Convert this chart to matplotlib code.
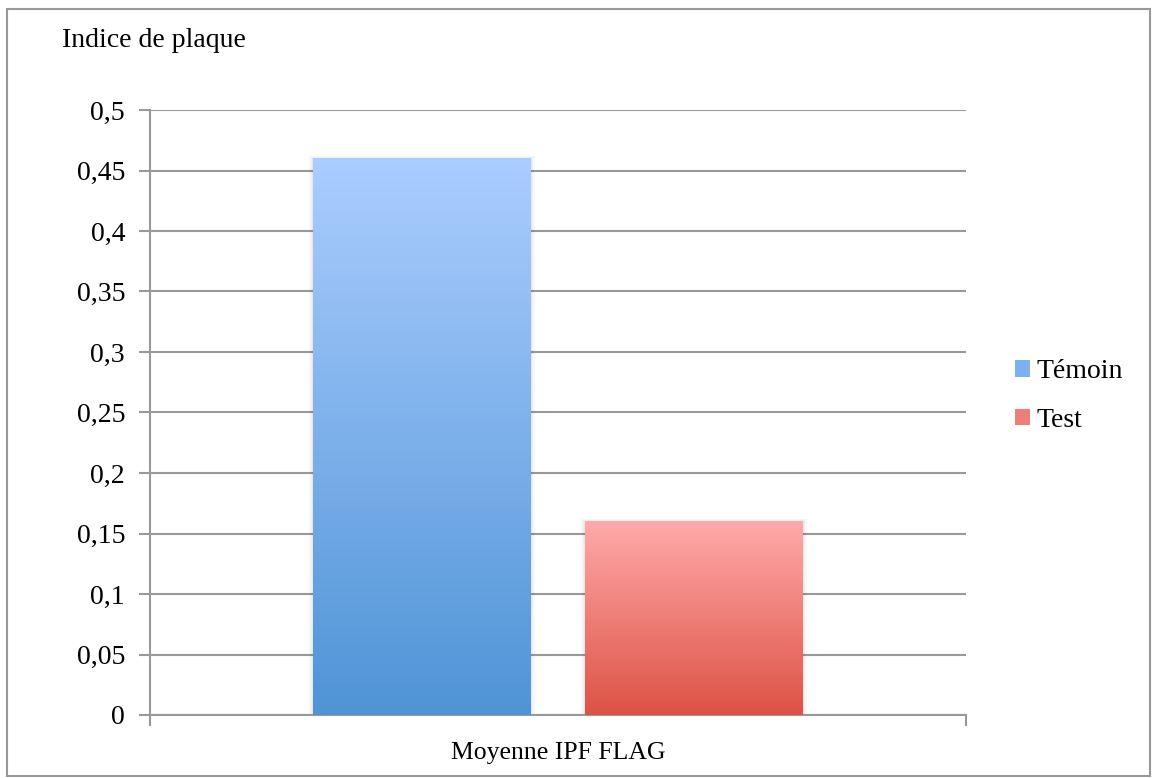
import numpy as np
import matplotlib
matplotlib.use("Agg")
import matplotlib.pyplot as plt
from matplotlib.patches import Patch, Rectangle
from matplotlib.colors import LinearSegmentedColormap
from matplotlib.ticker import FuncFormatter, MultipleLocator

plt.rcParams['font.family'] = ['Liberation Serif', 'DejaVu Serif']

category = "Moyenne IPF FLAG"
series = ["Témoin", "Test"]
values = [0.46, 0.16]
top_colors = ["#abcdff", "#ffaaaa"]
bottom_colors = ["#4f94d6", "#dd5245"]

fig = plt.figure(figsize=(11.52, 7.78), dpi=100)
fig.patches.append(Rectangle((7/1152, 2/778), 1143/1152, 767/778, transform=fig.transFigure,
                             fill=False, edgecolor="#999999", lw=1.5))
ax = fig.add_axes([150/1152, 63/778, 816/1152, 605/778])

width = 0.267
offsets = [-0.1667, 0.1667]
grad = np.linspace(1, 0, 256).reshape(-1, 1)
for off, v, ct, cb in zip(offsets, values, top_colors, bottom_colors):
    x0 = off - width / 2
    # soft shadow, a few faint layers
    for k in range(1, 4):
        ax.bar(off, v + 0.001 * k, width + 0.003 * k, bottom=-0.001, color="#000000",
               alpha=0.03, zorder=2, lw=0)
    cmap = LinearSegmentedColormap.from_list("g", [cb, ct])
    ax.imshow(grad, extent=[x0, x0 + width, 0, v], aspect="auto", cmap=cmap, zorder=3)

ax.set_xlim(-0.5, 0.5)
ax.set_ylim(0, 0.5)
ax.yaxis.set_major_locator(MultipleLocator(0.05))
ax.yaxis.set_major_formatter(FuncFormatter(lambda y, p: ("%g" % round(y, 2)).replace(".", ",")))
ax.grid(axis="y", color="#999999", lw=1.5, zorder=1)
ax.set_axisbelow(True)
for s in ["top", "right"]:
    ax.spines[s].set_visible(False)
for s in ["left", "bottom"]:
    ax.spines[s].set_color("#999999")
    ax.spines[s].set_linewidth(1.5)
ax.set_xticks([-0.5, 0.5])
ax.set_xticklabels(["", ""])
ax.tick_params(axis="x", length=8, width=1.5, color="#999999", direction="out")
ax.tick_params(axis="y", length=8, width=1.5, color="#999999", labelsize=20, pad=10)
ax.text(0.5, -0.045, category, transform=ax.transAxes, ha="center", va="top", fontsize=18.5)

fig.text(62/1152, 1 - 47/778, "Indice de plaque", ha="left", va="baseline", fontsize=20)

handles = [Patch(facecolor=c, edgecolor="none") for c in ["#7db1ee", "#ee7f78"]]
fig.legend(handles, series, loc="center left", bbox_to_anchor=(990/1152, 1 - 396/778),
           frameon=False, fontsize=20, handlelength=0.55, handleheight=0.55,
           handletextpad=0.22, labelspacing=0.85)

fig.savefig("out.png", dpi=100)
